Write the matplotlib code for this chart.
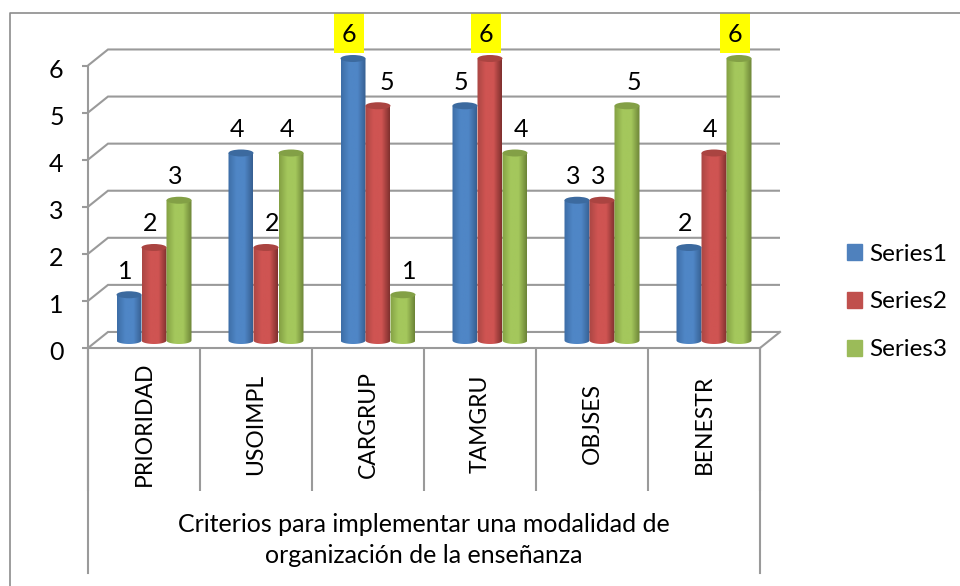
import matplotlib
matplotlib.use("Agg")
import matplotlib.pyplot as plt
import numpy as np
from matplotlib.colors import LinearSegmentedColormap
from matplotlib.lines import Line2D
from matplotlib.patches import Ellipse, Patch, PathPatch, Rectangle
from matplotlib.path import Path
from matplotlib.transforms import ScaledTranslation

categories = ["PRIORIDAD", "USOIMPL", "CARGRUP", "TAMGRU", "OBJSES", "BENESTR"]
series1 = [1, 4, 6, 5, 3, 2]
series2 = [2, 2, 5, 6, 3, 4]
series3 = [3, 4, 1, 4, 5, 6]
series_names = ["Series1", "Series2", "Series3"]
y_ticks = [0, 1, 2, 3, 4, 5, 6]
axis_title = "Criterios para implementar una modalidad de\norganización de la enseñanza"

plt.rcParams["font.family"] = ["Lato", "DejaVu Sans"]
W, H = 960, 586
FS = 18
GREY = "#9a9a9a"

fig = plt.figure(figsize=(W / 100, H / 100), dpi=100)


def box(x0, y0, x1, y1):
    # pixel box, y measured from the top
    return [x0 / W, 1 - y1 / H, (x1 - x0) / W, (y1 - y0) / H]


# front plane of the 3d box
ax = fig.add_axes(box(88, 65.5, 760, 348))
ax.set_xlim(0, 6)
ax.set_ylim(0, 6)
ax.patch.set_visible(False)
for s in ax.spines.values():
    s.set_visible(False)
ax.spines["left"].set_visible(True)
ax.spines["bottom"].set_visible(True)
ax.spines["left"].set_color(GREY)
ax.spines["bottom"].set_color(GREY)
ax.spines["left"].set_linewidth(1.5)
ax.spines["bottom"].set_linewidth(1.5)

ax.set_yticks(y_ticks)
ax.set_yticklabels([str(v) for v in y_ticks], fontsize=FS, va="center_baseline")
ax.tick_params(axis="y", length=4.5, width=1.5, color=GREY, pad=13)
shift = ScaledTranslation(0, -3 / 100, fig.dpi_scale_trans)
for label in ax.get_yticklabels():
    label.set_transform(label.get_transform() + shift)
ax.set_xticks(range(7))
ax.set_xticklabels([])
ax.tick_params(axis="x", length=103, width=1.5, color=GREY)

# walls going back
depth_x = 20 / 112
depth_y = 16 / 47
for v in y_ticks:
    ax.plot([0, depth_x, 6 + depth_x], [v, v + depth_y, v + depth_y], color=GREY, lw=1.5,
            clip_on=False, solid_capstyle="butt", solid_joinstyle="miter", zorder=1)
ax.plot([6, 6 + depth_x], [0, depth_y], color=GREY, lw=1.5, clip_on=False, zorder=1)

# outer category level lines
trans = ax.get_xaxis_transform()
for x in [0, 6]:
    ax.plot([x, x], [0, -225 / 282.5], color=GREY, lw=1.5, transform=trans, clip_on=False)

for i, name in enumerate(categories):
    ax.text(i + 0.5, -76 / 282.5, name, transform=trans, rotation=90, ha="center", va="center", fontsize=16.5)
ax.text(3, -192 / 282.5, axis_title, transform=trans, ha="center", va="center", fontsize=FS, linespacing=1.45)

# bars sit a little inside the box, the cylinder foot hangs below value 0
foot = 5.5 / 47.25
bar_ax = fig.add_axes(box(98, 55, 770, 344))
bar_ax.set_xlim(0, 6)
bar_ax.set_ylim(-foot, 6)
bar_ax.axis("off")

bar_w = 25 / 112
cap_h = 7 / 47.25
shades = [
    ("#3d6da6", "#4f86c6", "#365f91", "#3c6a9f"),
    ("#a94643", "#cf5452", "#7f302e", "#aa4441"),
    ("#83a043", "#a4c75c", "#6c8437", "#83a046"),
]


def draw_cylinder(x, v, shade):
    left, mid, right, top = shade
    cmap = LinearSegmentedColormap.from_list("c", [left, mid, mid, right], N=64)
    grad = np.linspace(0, 1, 64).reshape(1, -1)
    body_top = v - cap_h / 2
    im = bar_ax.imshow(grad, cmap=cmap, extent=[x - bar_w / 2, x + bar_w / 2, -foot, body_top], aspect="auto", zorder=3)
    t = np.linspace(np.pi, 2 * np.pi, 20)
    xs = x + bar_w / 2 * np.cos(t)
    ys = -foot + cap_h / 2 + cap_h / 2 * np.sin(t)
    verts = list(zip(xs, ys)) + [(x + bar_w / 2, body_top), (x - bar_w / 2, body_top), (xs[0], ys[0])]
    clip = PathPatch(Path(verts), transform=bar_ax.transData, fc="none", ec="none")
    bar_ax.add_patch(clip)
    im.set_clip_path(clip)
    bar_ax.add_patch(Ellipse((x, body_top), bar_w, cap_h, fc=top, ec="none", zorder=4))


# labels that were moved by hand in the original, in pixels
nudge = {(1, 1): 6, (2, 1): 9, (2, 2): 6, (3, 2): 6, (4, 2): 7}
highlight = {(2, 0), (3, 1), (5, 2)}

for s, values in enumerate([series1, series2, series3]):
    for i, v in enumerate(values):
        x = i + 0.5 + (s - 1) * bar_w
        draw_cylinder(x, v, shades[s])
        dx = nudge.get((i, s), -4)
        if (i, s) in highlight:
            bar_ax.add_patch(Rectangle((x + (dx - 15) / 112, v + 2 / 47.25), 30 / 112, 40 / 47.25, fc="#ffff00",
                                       ec="none", clip_on=False, zorder=5))
        bar_ax.annotate(str(v), (x, v), xytext=(dx * 0.72, 14.5), textcoords="offset points", ha="center",
                        va="center", fontsize=FS, zorder=6)
bar_ax.set_xlim(0, 6)
bar_ax.set_ylim(-foot, 6)

handles = [Patch(color=c) for c in ["#4f81bd", "#c0504d", "#9bbb59"]]
fig.legend(handles, series_names, loc="center left", bbox_to_anchor=(847 / W, 1 - 302 / H), frameon=False,
           fontsize=17.5, handlelength=0.62, handleheight=0.62, handletextpad=0.3, labelspacing=1.1,
           borderpad=0, borderaxespad=0)

# frame of the chart, cropped at the right and the bottom
fig.add_artist(Line2D([10 / W, 10 / W, 1], [0, 1 - 13 / H, 1 - 13 / H], color="#8c8c8c", lw=1.2))

fig.savefig("out.png", dpi=100)
